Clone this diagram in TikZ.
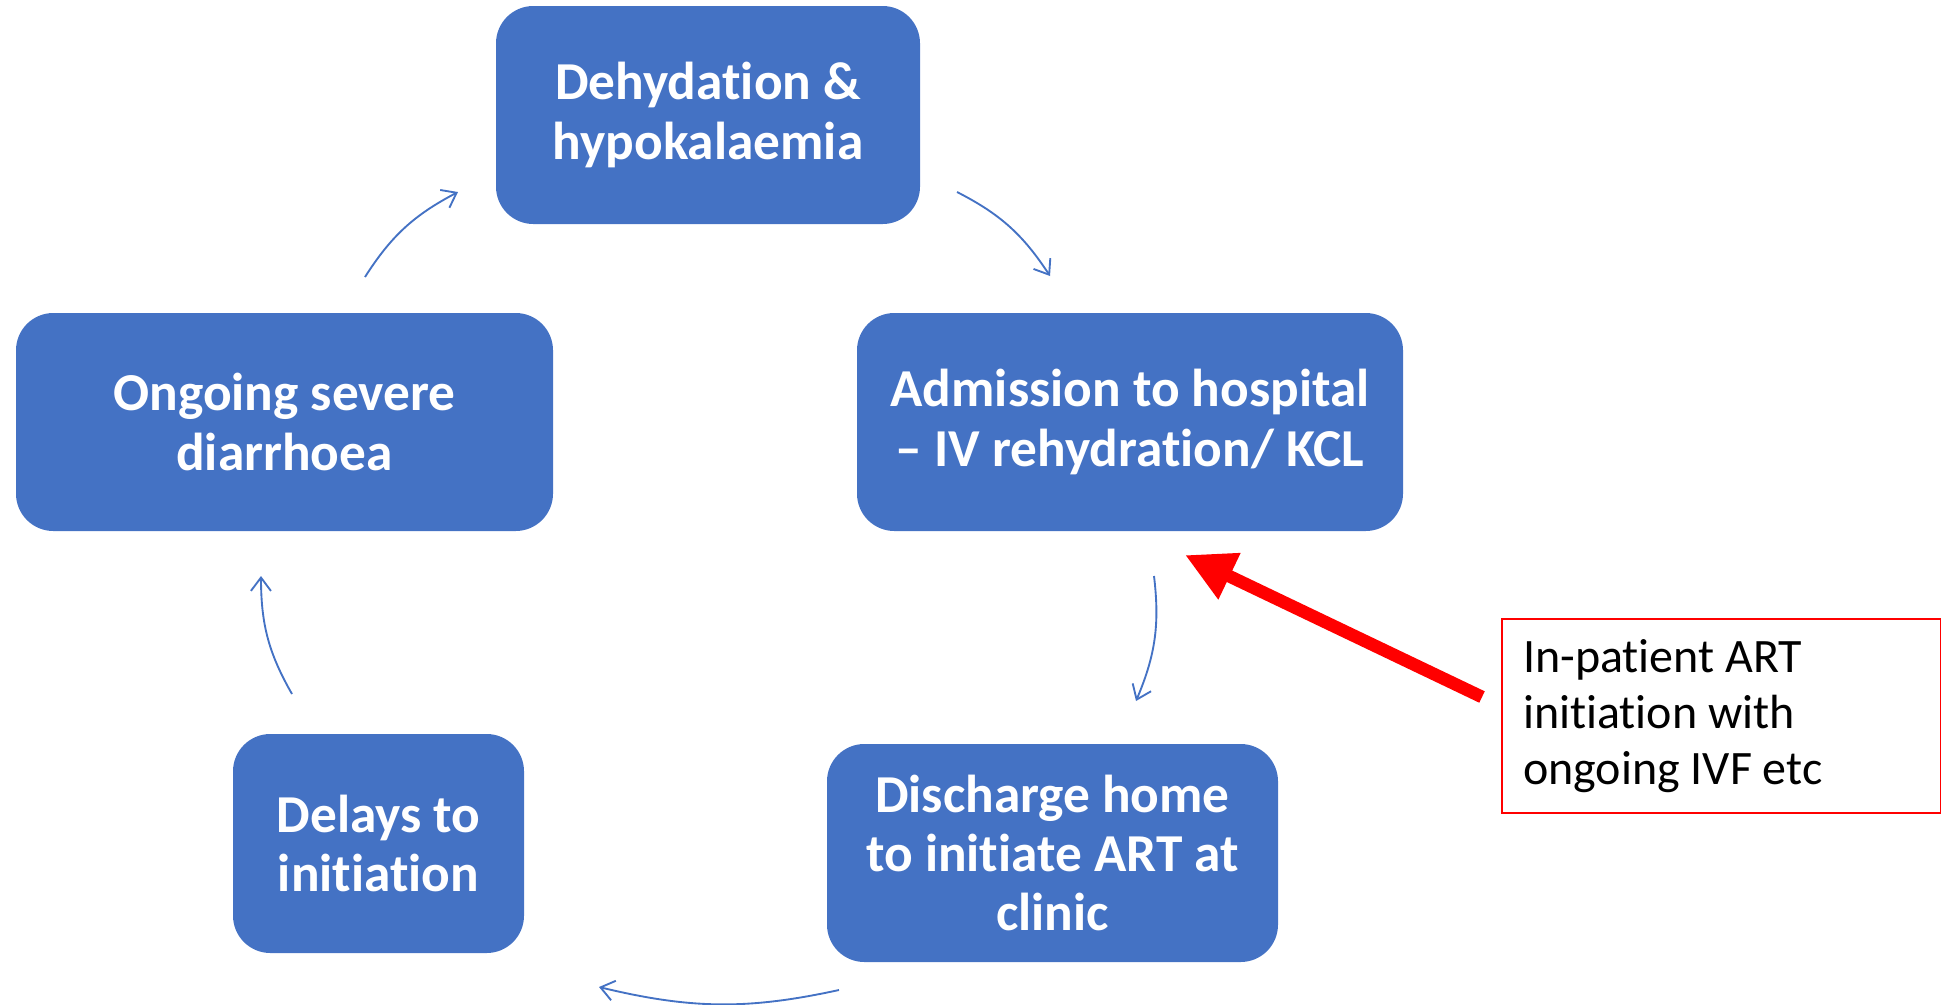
\documentclass[tikz,border=0pt]{standalone}
\usepackage{fontspec}
\setmainfont{Carlito}[Ligatures={NoCommon}]
\usetikzlibrary{arrows.meta,bending}
\definecolor{boxblue}{HTML}{4472C4}
\begin{document}
\begin{tikzpicture}[x=0.75pt,y=-0.75pt,
  box/.style={rectangle, rounded corners=28pt, fill=boxblue, text=white,
    font=\fontsize{40}{44.5}\selectfont\bfseries, align=center,
    minimum height=163.5pt, inner sep=0pt},
  cyc/.style={draw=boxblue, line width=1.4pt,
    -{Straight Barb[length=10pt,width=15pt]}, bend left=15}]
\useasboundingbox (0,0) rectangle (1941,1004);

\node[box, minimum width=318pt] (dehyd) at (708,115) {Dehydation \&\\hypokalaemia};
\node[box, minimum width=409.5pt] (admit) at (1130,422) {Admission to hospital\\– IV rehydration/ KCL};
\node[box, minimum width=402.75pt] (ongoing) at (284.5,422) {Ongoing severe\\diarrhoea};
\node[box, minimum width=338.25pt] (discharge) at (1052.5,853) {Discharge home\\to initiate ART at\\clinic};
\node[box, minimum width=218.25pt, minimum height=164.25pt] (delays) at (378.5,843.5) {Delays to\\initiation};

\node[draw=red, line width=1.1pt, minimum width=329.25pt, minimum height=145.5pt,
  text width=297.75pt, align=flush left, inner xsep=15.75pt, inner ysep=0pt,
  font=\fontsize{36}{42}\selectfont] (inpat) at (1721.5,716)
  {In-patient ART\\initiation with\\ongoing IVF etc};

\coordinate (c1s) at (365,277); \coordinate (c1e) at (458,192);
\coordinate (c2s) at (957,192); \coordinate (c2e) at (1050,276);
\coordinate (c3s) at (1154,576); \coordinate (c3e) at (1136,701);
\coordinate (c4s) at (839,990); \coordinate (c4e) at (599,987);
\coordinate (c5s) at (292,694); \coordinate (c5e) at (261,576);

\draw[cyc] (c1s) to (c1e);
\draw[cyc] (c2s) to (c2e);
\draw[cyc] (c3s) to (c3e);
\draw[cyc, bend left=13] (c4s) to (c4e);
\draw[cyc] (c5s) to (c5e);

\coordinate (rs) at (1482,697);
\coordinate (re) at (1185,555);
\draw[red, line width=9.5pt, -{Triangle[length=37pt,width=36pt]}] (rs) -- (re);
\end{tikzpicture}
\end{document}
